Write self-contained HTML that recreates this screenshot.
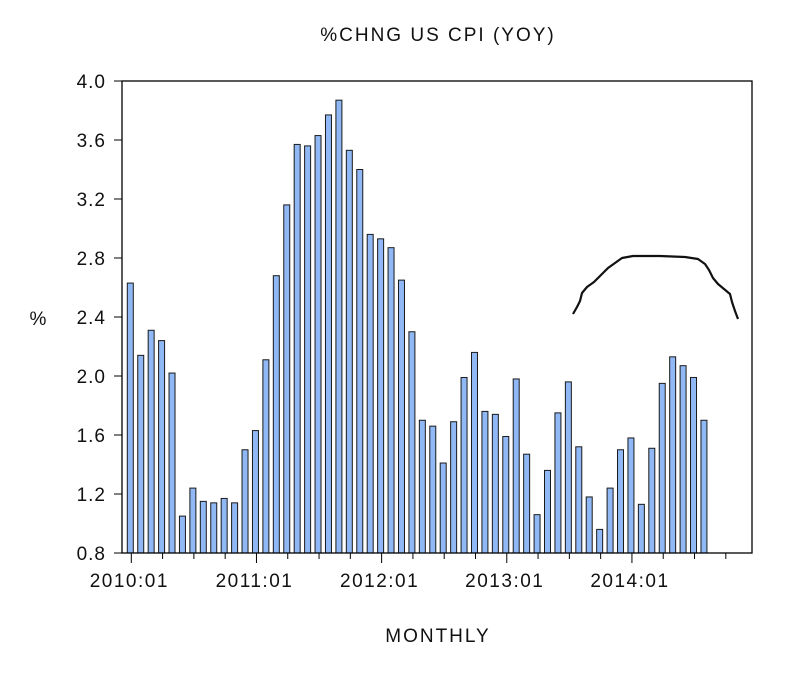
<!DOCTYPE html>
<html><head><meta charset="utf-8"><style>
html,body{margin:0;padding:0;background:#fff;}
svg text{font-family:"Liberation Sans",Arial,sans-serif;fill:#111;}
</style></head><body>
<svg id="chart" width="800" height="675" xmlns="http://www.w3.org/2000/svg">
<text x="438" y="41" font-size="19" letter-spacing="2" text-anchor="middle">%CHNG US CPI (YOY)</text>
<text x="38" y="325" font-size="19" text-anchor="middle">%</text>
<text x="438" y="642" font-size="19" letter-spacing="2" text-anchor="middle">MONTHLY</text>
<g id="bars"></g>
<g id="yticks"></g>
<g id="xticks"></g>
<rect x="122" y="81" width="630" height="472" fill="none" stroke="#000" stroke-width="1.3"/>
<path d="M573,314 L577,307 L580,301 L582,293 L587,287 L594,282 L600,276 L608,268 L615,263 L622,258 L633,256 L660,256 L685,257 L698,259 L705,264 L709,270 L713,278 L718,284 L724,289 L730,294 L732,302 L735,311 L738,319" fill="none" stroke="#111" stroke-width="2.2" stroke-linejoin="round"/>
</svg>
<script>
const values2010 = [2.63,2.14,2.31,2.24,2.02,1.05,1.24,1.15,1.14,1.17,1.14,1.50];
const values2011 = [1.63,2.11,2.68,3.16,3.57,3.56,3.63,3.77,3.87,3.53,3.40,2.96];
const values2012 = [2.93,2.87,2.65,2.30,1.70,1.66,1.41,1.69,1.99,2.16,1.76,1.74];
const values2013 = [1.59,1.98,1.47,1.06,1.36,1.75,1.96,1.52,1.18,0.96,1.24,1.50];
const values2014 = [1.58,1.13,1.51,1.95,2.13,2.07,1.99,1.70];
const yTicks = [0.8,1.2,1.6,2.0,2.4,2.8,3.2,3.6,4.0];
const yearLabels = ["2010:01","2011:01","2012:01","2013:01","2014:01"];
const values = values2010.concat(values2011,values2012,values2013,values2014);
{
const NS="http://www.w3.org/2000/svg";
const yMin=0.8,yMax=4.0,plotTop=81,plotBottom=553;
function yS(v){return plotBottom-(v-yMin)/(yMax-yMin)*(plotBottom-plotTop);}
function xS(i){return 130.3+i*10.43;}
function mk(tag,attrs,parent){const e=document.createElementNS(NS,tag);for(const k in attrs)e.setAttribute(k,attrs[k]);parent.appendChild(e);return e;}
const gb=document.getElementById('bars');
values.forEach((v,i)=>{
  const r=mk('rect',{x:xS(i)-3,y:yS(v),width:6,height:plotBottom-yS(v),fill:'#8fb8f5',stroke:'#1a1a1a','stroke-width':1},gb);
  
  
});
const gy=document.getElementById('yticks');
yTicks.forEach(t=>{
  mk('line',{x1:114,x2:122,y1:yS(t),y2:yS(t),stroke:'#000'},gy);
  const tx=mk('text',{x:106,y:yS(t)+7,'font-size':19,'letter-spacing':1,'text-anchor':'end'},gy);
  tx.textContent=t.toFixed(1);
  
  
});
const gx=document.getElementById('xticks');
for(let m=0;m<60;m+=3){
  const major=m%12===0;
  mk('line',{x1:xS(m)+1,x2:xS(m)+1,y1:plotBottom,y2:plotBottom+(major?10:6),stroke:'#000'},gx);
}
yearLabels.forEach((l,k)=>{
  const tx=mk('text',{x:xS(k*12)-1,y:587,'font-size':19,'letter-spacing':1.5,'text-anchor':'middle'},gx);
  tx.textContent=l;
  
  
});
}
</script>
</body></html>
